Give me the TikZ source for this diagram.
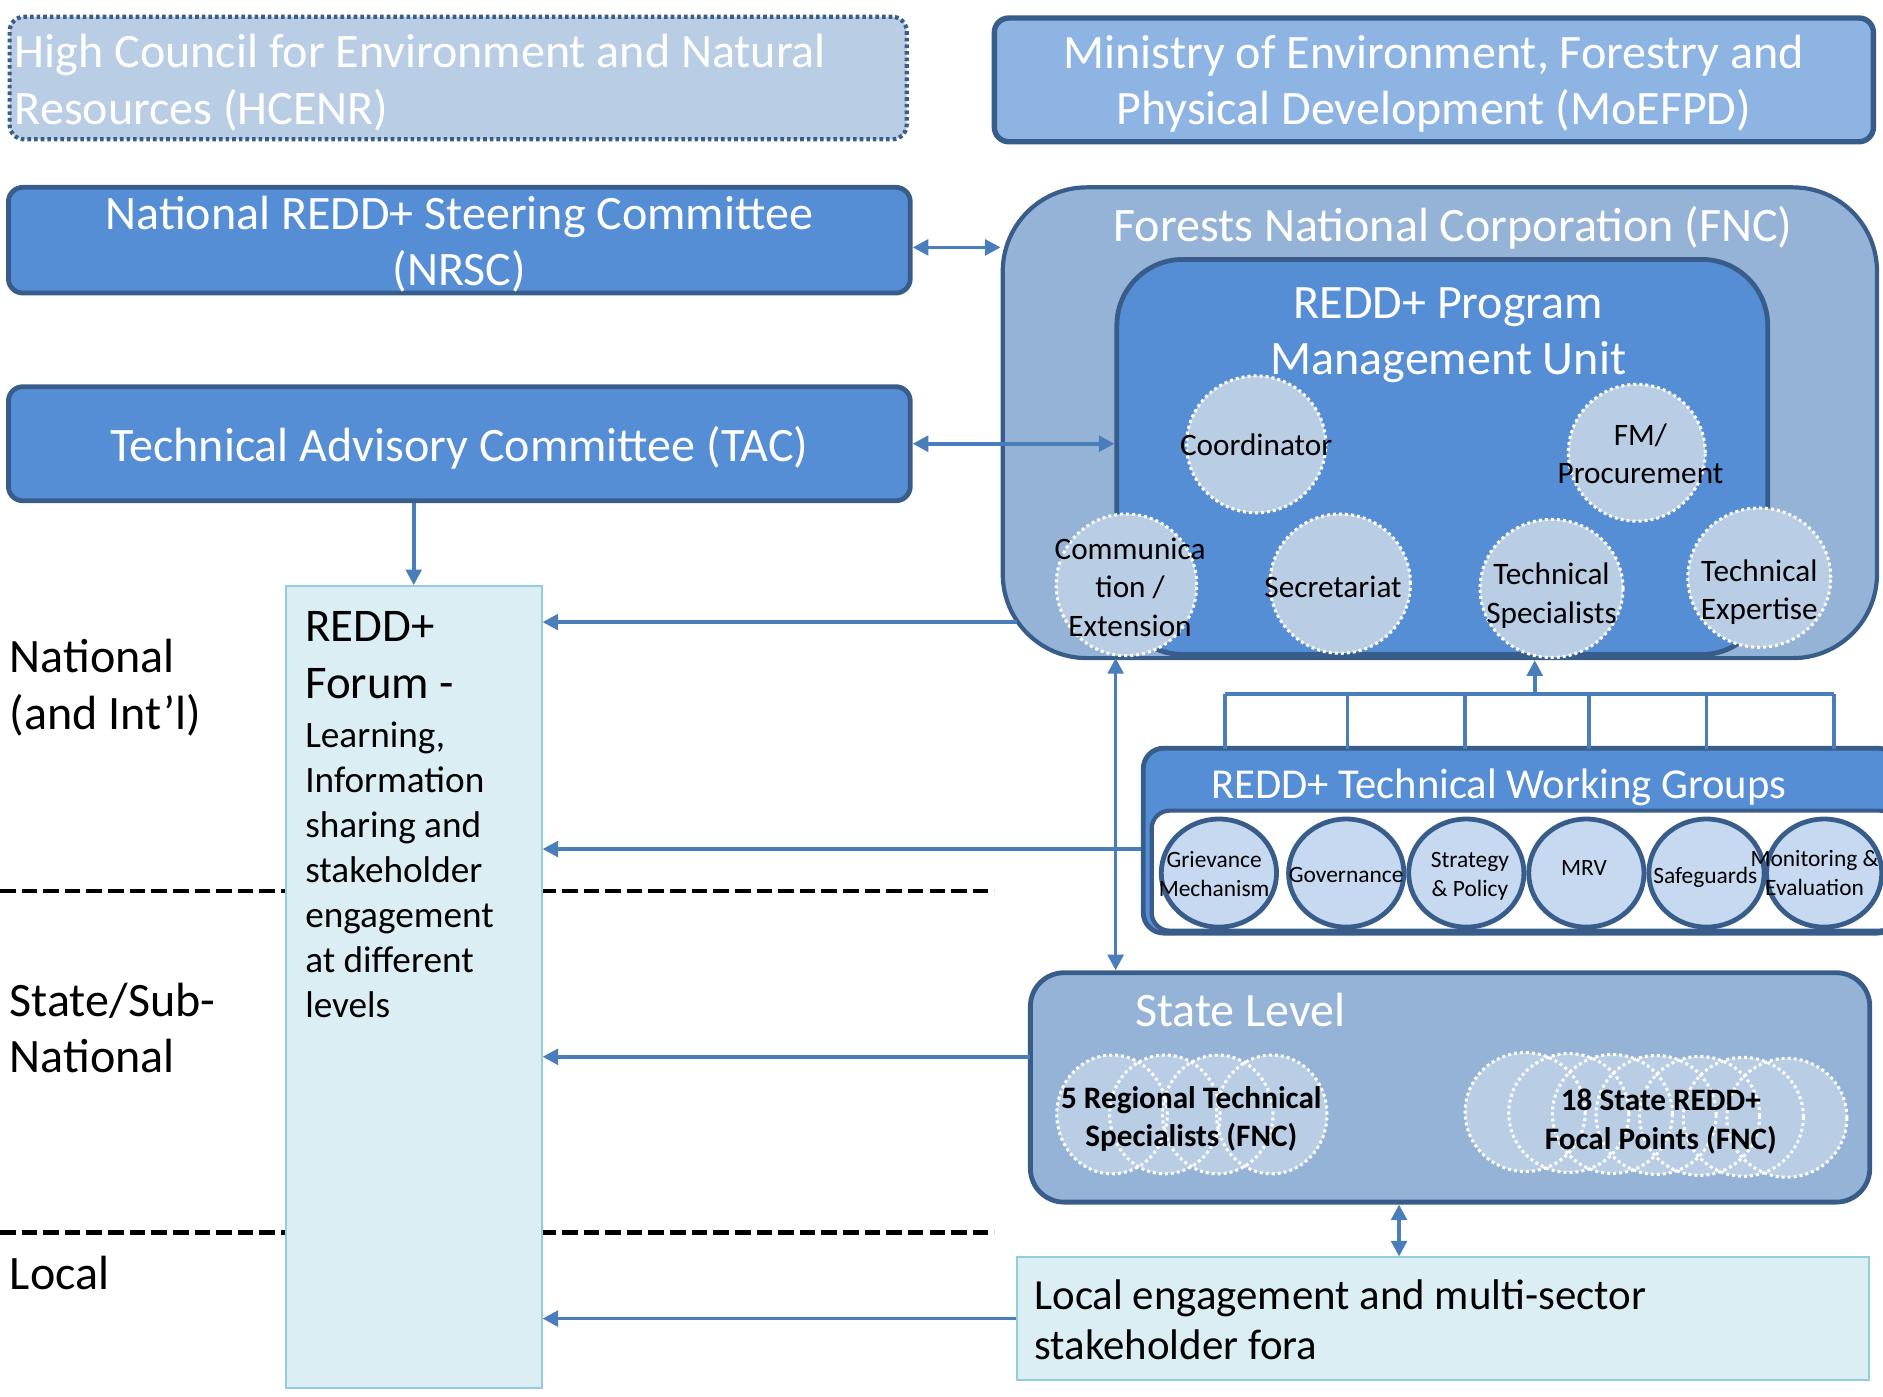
\documentclass[tikz,border=0pt]{standalone}
\usepackage{fontspec}
\setmainfont{Carlito}
\usetikzlibrary{arrows.meta,shapes.geometric}
\definecolor{dk}{HTML}{385D8A}
\definecolor{midb}{HTML}{558ED5}
\definecolor{fncc}{HTML}{95B3D7}
\definecolor{ltb}{HTML}{B9CDE5}
\definecolor{moec}{HTML}{8EB4E3}
\definecolor{twgc}{HTML}{C6D9F1}
\definecolor{forumf}{HTML}{DBEEF4}
\definecolor{foruml}{HTML}{93CDDD}
\definecolor{arrc}{HTML}{4A7EBB}
\tikzset{
  big/.style={font=\fontsize{40}{47}\selectfont},
  box/.style={draw=dk, line width=4pt, rounded corners=12pt, inner sep=0pt},
  boxtxt/.style={text=white, align=center, big, inner sep=0pt},
  conn/.style={draw=arrc, line width=3pt},
  tip/.style={-{Triangle[length=13pt,width=13pt]}},
  dtip/.style={{Triangle[length=13pt,width=13pt]}-{Triangle[length=13pt,width=13pt]}},
  pmuc/.style={ellipse, fill=ltb, draw=white, line width=2.5pt, dash pattern=on 2.5pt off 2.5pt, inner sep=0pt},
  ctxt/.style={align=center, inner sep=0pt, font=\fontsize{26}{32}\selectfont, text=black},
  twgcirc/.style={ellipse, fill=twgc, draw=dk, line width=4pt, minimum width=96pt, minimum height=90pt, inner sep=0pt},
  twgtxt/.style={align=center, inner sep=0pt, font=\fontsize{19.5}{24}\selectfont, text=black},
  grpfill/.style={ellipse, fill=ltb, inner sep=0pt},
  grpline/.style={draw=white, line width=2.5pt, dash pattern=on 2.5pt off 2.5pt},
  grptxt/.style={align=center, inner sep=0pt, font=\bfseries\fontsize{26}{32}\selectfont, text=black},
  lvl/.style={anchor=west, align=flush left, big, inner sep=0pt},
  sepline/.style={line width=4pt, dash pattern=on 13pt off 5pt},
  pale/.style={draw=foruml, fill=forumf, line width=1.5pt, inner sep=0pt},
}
\begin{document}
\begin{tikzpicture}[x=1pt,y=-1pt]
\useasboundingbox (0,0) rectangle (1568,1163);
\clip (0,0) rectangle (1568,1163);

% level separators
\coordinate (s1a) at (0,742); \coordinate (s1b) at (828,742);
\coordinate (s2a) at (0,1026); \coordinate (s2b) at (828,1026);
\draw[sepline] (s1a) -- (s1b);
\draw[sepline] (s2a) -- (s2b);

% level labels
\node[lvl] (lnat) at (8,572.5) {National\\(and Int’l)};
\node[lvl] (lstate) at (8,856) {State/Sub-\\National};
\node[lvl] (llocal) at (8,1060) {Local};

% forum
\node[pale, minimum width=213pt, minimum height=668pt] (forum) at (344.5,822) {};
\node[anchor=north west, inner sep=0pt, align=flush left, font=\fontsize{39}{47}\selectfont] (forumt) at (254,509) {REDD+\\Forum -};
\node[anchor=north west, inner sep=0pt, align=flush left, font=\fontsize{31}{37.4}\selectfont] (forumb) at (254,601) {Learning,\\Information\\sharing and\\stakeholder\\engagement\\at different\\levels};

% top boxes
\node[box, fill=ltb, line width=3.5pt, dash pattern=on 3pt off 2.5pt, minimum width=747pt, minimum height=102pt] (hcenr) at (381.5,65) {};
\node[boxtxt, anchor=west, align=flush left] (hcenrt) at ([xshift=6pt,yshift=-4pt]hcenr.west) {High Council for Environment and Natural\\Resources (HCENR)};
\node[box, fill=moec, line width=4.5pt, minimum width=732pt, minimum height=103pt] (moe) at (1194,66.5) {};
\node[boxtxt] (moet) at ([yshift=-3pt]moe.center) {Ministry of Environment, Forestry and\\Physical Development (MoEFPD)};
\node[box, fill=midb, minimum width=751pt, minimum height=88pt] (nrsc) at (382.5,200) {};
\node[boxtxt] (nrsct) at ([yshift=-3.5pt]nrsc.center) {National REDD+ Steering Committee\\(NRSC)};
\node[box, fill=midb, minimum width=751pt, minimum height=95pt] (tac) at (382.5,369.5) {};
\node[boxtxt] (tact) at ([yshift=-3pt]tac.center) {Technical Advisory Committee (TAC)};

% FNC and PMU
\node[box, fill=fncc, rounded corners=70pt, line width=3.5pt, minimum width=728pt, minimum height=392pt] (fnc) at (1199,352) {};
\node[boxtxt] (fnct) at (1210,190) {Forests National Corporation (FNC)};
\node[box, fill=midb, rounded corners=55pt, minimum width=542pt, minimum height=329pt] (pmu) at (1201,380.5) {};
\node[boxtxt] (pmut) at (1206,279) {REDD+ Program\\Management Unit};

\node[pmuc, minimum width=116pt, minimum height=114pt] (c1) at (1046,370) {};
\node[ctxt] (c1t) at (1046,370) {Coordinator};
\node[pmuc, minimum width=114pt, minimum height=114pt] (c2) at (1363,377) {};
\node[ctxt] (c2t) at (1366,378) {FM/\\Procurement};
\node[pmuc, minimum width=117pt, minimum height=118pt] (c3) at (938,487) {};
\node[ctxt] (c3t) at (941,489) {Communica\\tion /\\Extension};
\node[pmuc, minimum width=117pt, minimum height=116pt] (c4) at (1116,486) {};
\node[ctxt] (c4t) at (1110,489) {Secretariat};
\node[pmuc, minimum width=119pt, minimum height=115pt] (c5) at (1292,490) {};
\node[ctxt] (c5t) at (1292,496) {Technical\\Specialists};
\node[pmuc, minimum width=119pt, minimum height=116pt] (c6) at (1465,481) {};
\node[ctxt] (c6t) at (1465,493) {Technical\\Expertise};

% TWG
\node[box, fill=midb, rounded corners=17pt, minimum width=628pt, minimum height=154pt] (twg) at (1266,700) {};
\node[draw=dk, fill=white, line width=3.5pt, rounded corners=15pt, minimum width=621pt, minimum height=100pt, inner sep=0pt] (twgin) at (1269.5,725) {};
\node[boxtxt, font=\fontsize{35.5}{42}\selectfont] (twgt) at (1248,656) {REDD+ Technical Working Groups};
\node[twgcirc] (g1) at (1015,727) {};
\node[twgtxt] (g1t) at (1011,728) {Grievance\\Mechanism};
\node[twgcirc] (g2) at (1121,727) {};
\node[twgtxt] (g2t) at (1121,729) {Governance};
\node[twgcirc] (g3) at (1221,727) {};
\node[twgtxt] (g3t) at (1224,730) {Strategy\\\& Policy};
\node[twgcirc] (g4) at (1321,727) {};
\node[twgtxt] (g4t) at (1319,723) {MRV};
\node[twgcirc] (g5) at (1421,727) {};
\node[twgtxt] (g5t) at (1420,731) {Safeguards};
\node[twgcirc] (g6) at (1519,727) {};
\node[twgtxt] (g6t) at (1511,727) {Monitoring \&\\Evaluation};

% State level
\node[box, fill=fncc, rounded corners=28pt, minimum width=699pt, minimum height=191pt] (state) at (1207.5,905.5) {};
\node[boxtxt, anchor=west] (statet) at (945,841) {State Level};
\foreach \i/\x in {1/926,2/970,3/1014,4/1059}
  \node[grpfill, minimum width=92pt, minimum height=99pt] (rg\i) at (\x,928) {};
\foreach \i in {1,...,4}
  \draw[grpline] (rg\i.center) ellipse [x radius=46pt, y radius=49.5pt];
\foreach \i in {0,...,6}
  \node[grpfill, minimum width=100pt, minimum height=99pt] (fp\i) at ({1270+\i*36.33},{926+\i*0.8}) {};
\foreach \i in {0,...,6}
  \draw[grpline] (fp\i.center) ellipse [x radius=50pt, y radius=49.5pt];
\node[grptxt] (rgt) at (992,932) {5 Regional Technical\\Specialists (FNC)};
\node[grptxt] (fpt) at (1383,934) {18 State REDD+\\Focal Points (FNC)};

% Local
\node[pale, minimum width=709pt, minimum height=102pt] (local) at (1201.5,1098) {};
\node[anchor=west, inner sep=0pt, align=flush left, font=\fontsize{35.7}{42}\selectfont] (localt) at ([xshift=15pt,yshift=-1pt]local.west) {Local engagement and multi-sector\\stakeholder fora};

% connectors
\draw[conn,dtip] ([yshift=-6pt]nrsc.east) -- ([yshift=-6pt]nrsc.east -| fnc.west);
\draw[conn,dtip] (tac.east) -- (tac.east -| pmu.west);
\draw[conn,tip] (tac.south -| forum.north) -- (forum.north);
\coordinate (fncout) at (847,518);
\draw[conn,tip] (fncout) -- (fncout -| forum.east);
\draw[conn,tip] ([yshift=-7pt]twg.west) -- ([yshift=-7pt]twg.west -| forum.east);
\coordinate (stout) at (858,880);
\draw[conn,tip] (stout) -- (stout -| forum.east);
\draw[conn,tip] (local.west) -- (local.west -| forum.east);
\coordinate (vtop) at (929,548);
\draw[conn,dtip] (vtop) -- (vtop |- state.north);
\coordinate (slx) at (1165,0);
\draw[conn,dtip] (state.south -| slx) -- (local.north -| slx);

% TWG bus
\coordinate (bus) at (1278,578);
\coordinate (busl) at (1020,578);
\coordinate (busr) at (1527,578);
\draw[conn] (busl) -- (busr);
\foreach \x in {1020,1122,1220,1323,1421,1527}
  \draw[conn] (\x,578) -- (\x,624);
\draw[conn,tip] (bus) -- (bus |- fnc.south);
\end{tikzpicture}
\end{document}
